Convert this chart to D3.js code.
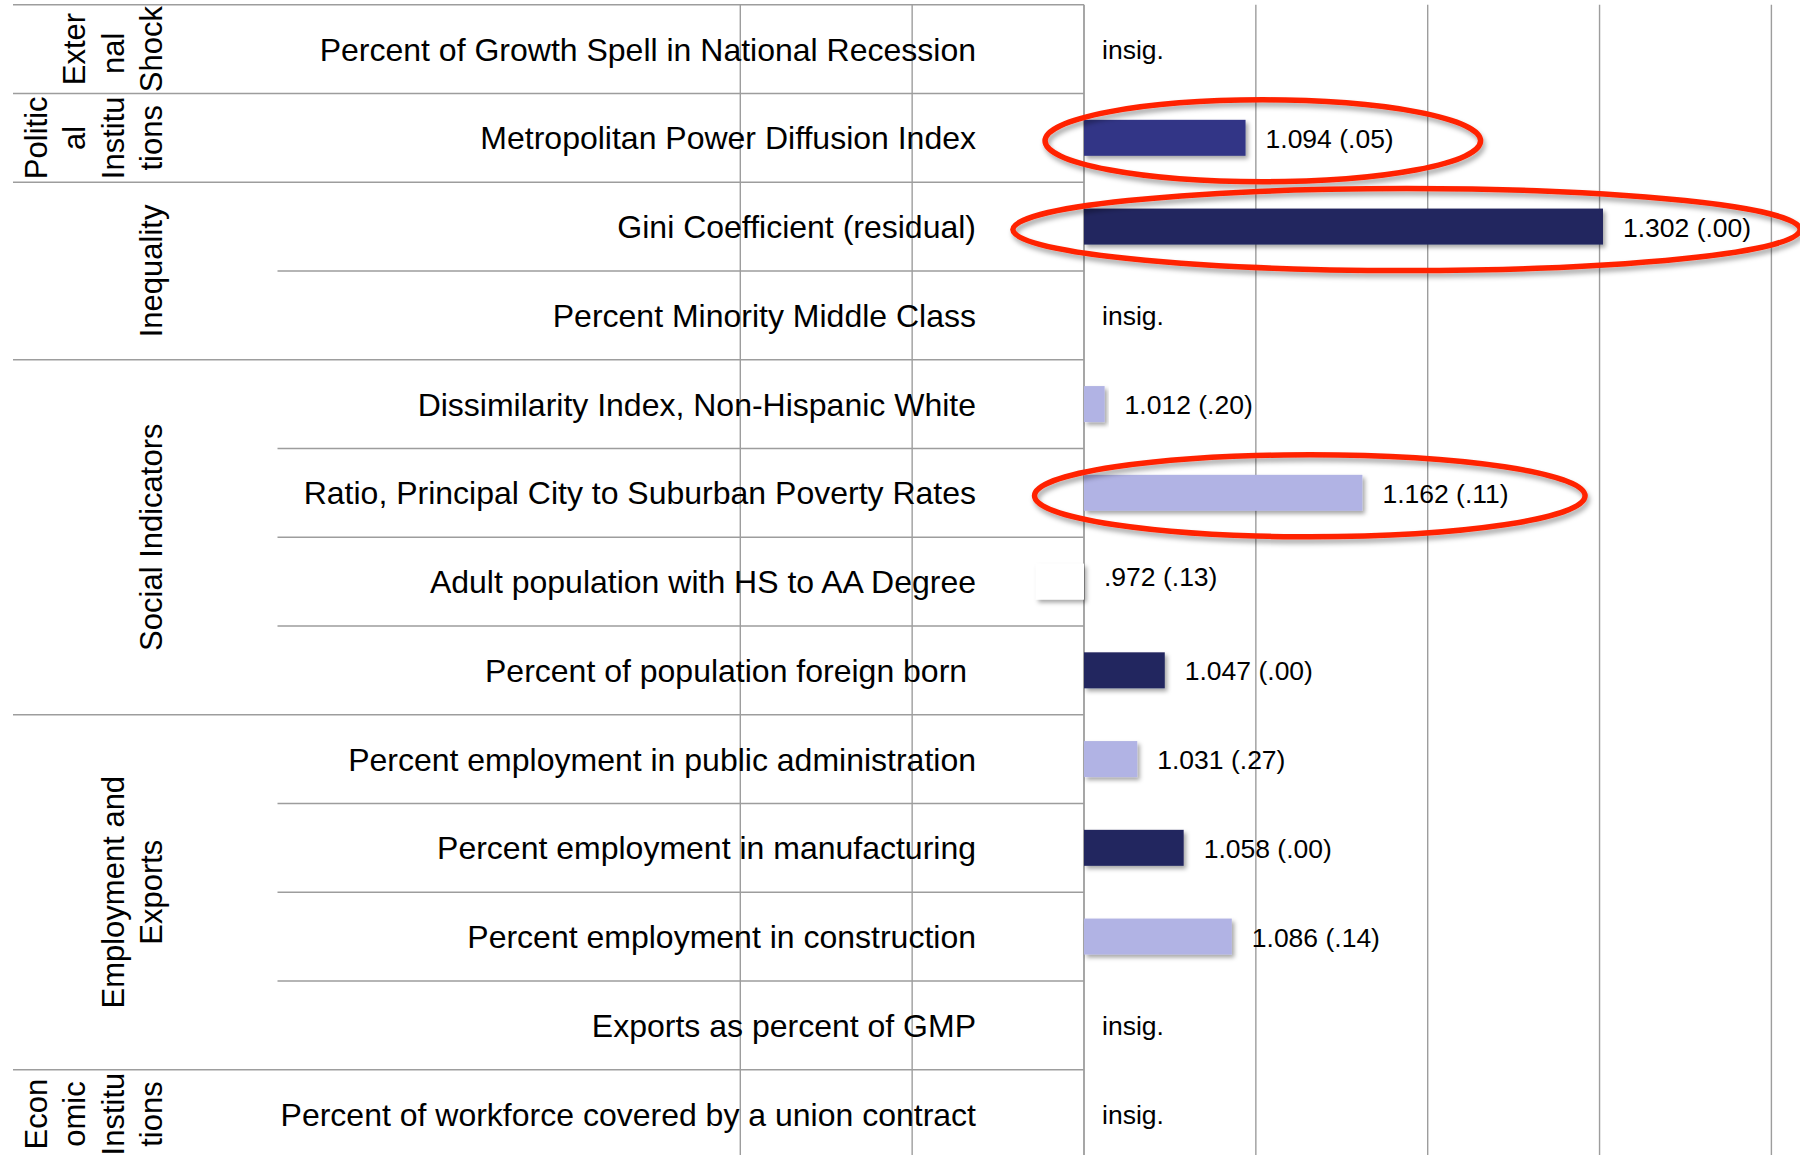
<!DOCTYPE html>
<html>
<head>
<meta charset="utf-8">
<script src="https://cdn.jsdelivr.net/npm/d3@7"></script>
<style>
  html, body { margin: 0; padding: 0; background: #fff; }
  svg { display: block; font-family: "Liberation Sans", Arial, sans-serif; }
</style>
</head>
<body>
<script>
// ---------------- data ----------------
const rowLabels = [
  "Percent of Growth Spell in National Recession",
  "Metropolitan Power Diffusion Index",
  "Gini Coefficient (residual)",
  "Percent Minority Middle Class",
  "Dissimilarity Index, Non-Hispanic White",
  "Ratio, Principal City to Suburban Poverty Rates",
  "Adult population with HS to AA Degree",
  "Percent of population foreign born\u00a0",
  "Percent employment in public administration",
  "Percent employment in manufacturing",
  "Percent employment in construction",
  "Exports as percent of GMP",
  "Percent of workforce covered by a union contract"
];
const oddsRatios = [null, 1.094, 1.302, null, 1.012, 1.162, 0.972, 1.047, 1.031, 1.058, 1.086, null, null];
const pValues    = [null, ".05", ".00", null, ".20", ".11", ".13", ".00", ".27", ".00", ".14", null, null];
const sigClass   = [null, "marginal", "strong", null, "weak", "weak", "negative", "strong", "weak", "strong", "weak", null, null];
const insigText = "insig.";

const groupLines = [
  ["Exter", "nal\u00a0", "Shock"],
  ["Politic", "al", "Institu", "tions"],
  ["Inequality"],
  ["Social Indicators"],
  ["Employment and", "Exports"],
  ["Econ", "omic", "Institu", "tions"]
];
const groupFirstRow = [0, 1, 2, 4, 8, 12];
const groupLastRow  = [0, 1, 3, 7, 11, 12];

const highlightedRows = [1, 2, 5];
const gridTicks = [0.8, 0.9, 1.0, 1.1, 1.2, 1.3, 1.4];
const baseline = 1.0;

// ---------------- layout ----------------
const W = 1800, H = 1155;
const svg = d3.select("body").append("svg").attr("width", W).attr("height", H);

const defs = svg.append("defs");
defs.append("filter").attr("id", "barShadow")
  .attr("x", "-20%").attr("y", "-40%").attr("width", "140%").attr("height", "190%")
  .append("feDropShadow").attr("dx", 2.5).attr("dy", 3).attr("stdDeviation", 2.2)
  .attr("flood-color", "#000").attr("flood-opacity", 0.35);
defs.append("filter").attr("id", "ringShadow")
  .attr("x", "-10%").attr("y", "-40%").attr("width", "120%").attr("height", "190%")
  .append("feDropShadow").attr("dx", 2).attr("dy", 4).attr("stdDeviation", 2.5)
  .attr("flood-color", "#000").attr("flood-opacity", 0.35);

const x = d3.scaleLinear().domain([0.8, 1.4]).range([740.3, 1771.4]);
const y = d3.scaleBand().domain(d3.range(rowLabels.length)).range([4.7, 4.7 + 88.75 * rowLabels.length]).padding(0);
const bw = y.bandwidth();
const barH = 36;
const color = d3.scaleOrdinal()
  .domain(["strong", "marginal", "weak", "negative"])
  .range(["#22255f", "#333686", "#b1b3e4", "#ffffff"]);

const lineColor = "#9d9d9d";
const xAxis0 = x(baseline);
const leftFull = 13, leftInner = 277.5;

// vertical grid lines (incl. baseline)
svg.append("g").selectAll("line").data(gridTicks).join("line")
  .attr("x1", d => x(d)).attr("x2", d => x(d))
  .attr("y1", y(0)).attr("y2", H)
  .attr("stroke", lineColor).attr("stroke-width", d => d === baseline ? 1.8 : 1.4);

// horizontal row separators
const boundaries = d3.range(rowLabels.length).map(i => ({
  y: y(i),
  full: groupFirstRow.includes(i)
}));
svg.append("g").selectAll("line").data(boundaries).join("line")
  .attr("x1", d => d.full ? leftFull : leftInner).attr("x2", xAxis0)
  .attr("y1", d => d.y).attr("y2", d => d.y)
  .attr("stroke", lineColor).attr("stroke-width", 1.6);

// row labels
svg.append("g").selectAll("text").data(rowLabels).join("text")
  .attr("x", 976).attr("y", (d, i) => y(i) + bw / 2)
  .attr("dy", "0.36em").attr("text-anchor", "end")
  .attr("font-size", 32).attr("fill", "#000")
  .style("white-space", "pre")
  .text(d => d);

// group labels (rotated)
const gLbl = svg.append("g");
groupLines.forEach((lines, gi) => {
  const cy = (y(groupFirstRow[gi]) + y(groupLastRow[gi]) + bw) / 2;
  const n = lines.length;
  lines.forEach((ln, li) => {
    const bx = 162 - (n - 1 - li) * 38.5;
    gLbl.append("text")
      .attr("transform", `translate(${bx},${cy}) rotate(-90)`)
      .attr("text-anchor", "middle")
      .attr("font-size", 31).attr("fill", "#000")
      .style("white-space", "pre")
      .text(ln);
  });
});

// bars
const barData = oddsRatios.map((v, i) => ({ i, v, p: pValues[i], c: sigClass[i] }));
const sig = barData.filter(d => d.v !== null);
svg.append("g").selectAll("rect").data(sig).join("rect")
  .attr("x", d => Math.min(x(d.v), xAxis0))
  .attr("width", d => Math.abs(x(d.v) - xAxis0))
  .attr("y", d => y(d.i) + (bw - barH) / 2)
  .attr("height", barH)
  .attr("fill", d => color(d.c))
  .attr("filter", "url(#barShadow)");

// value labels
const fmt = v => d3.format(".3f")(v).replace(/^0\./, ".");
svg.append("g").selectAll("text").data(barData).join("text")
  .attr("x", d => d.v === null ? xAxis0 + 18 : Math.max(x(d.v), xAxis0) + 20)
  .attr("y", d => y(d.i) + bw / 2)
  .attr("dy", d => d.v !== null && d.v < baseline ? "0.18em" : "0.38em")
  .attr("font-size", 26.5).attr("fill", "#000")
  .text(d => d.v === null ? insigText : `${fmt(d.v)} (${d.p})`);

// highlight rings (hand-drawn look: sized from the bar they circle)
const rings = highlightedRows.map(i => {
  const w = x(oddsRatios[i]) - xAxis0;
  const left = xAxis0 - 39 - (w - 162) * 0.09;
  const right = xAxis0 + w + 235 - (w - 162) * 0.106;
  return { cx: (left + right) / 2, cy: y(i) + bw / 2 + 3, rx: (right - left) / 2, ry: 41 };
});
svg.append("g").selectAll("ellipse").data(rings).join("ellipse")
  .attr("cx", d => d.cx).attr("cy", d => d.cy)
  .attr("rx", d => d.rx).attr("ry", d => d.ry)
  .attr("fill", "none").attr("stroke", "#ff2200").attr("stroke-width", 5.5)
  .attr("filter", "url(#ringShadow)");
</script>
</body>
</html>
